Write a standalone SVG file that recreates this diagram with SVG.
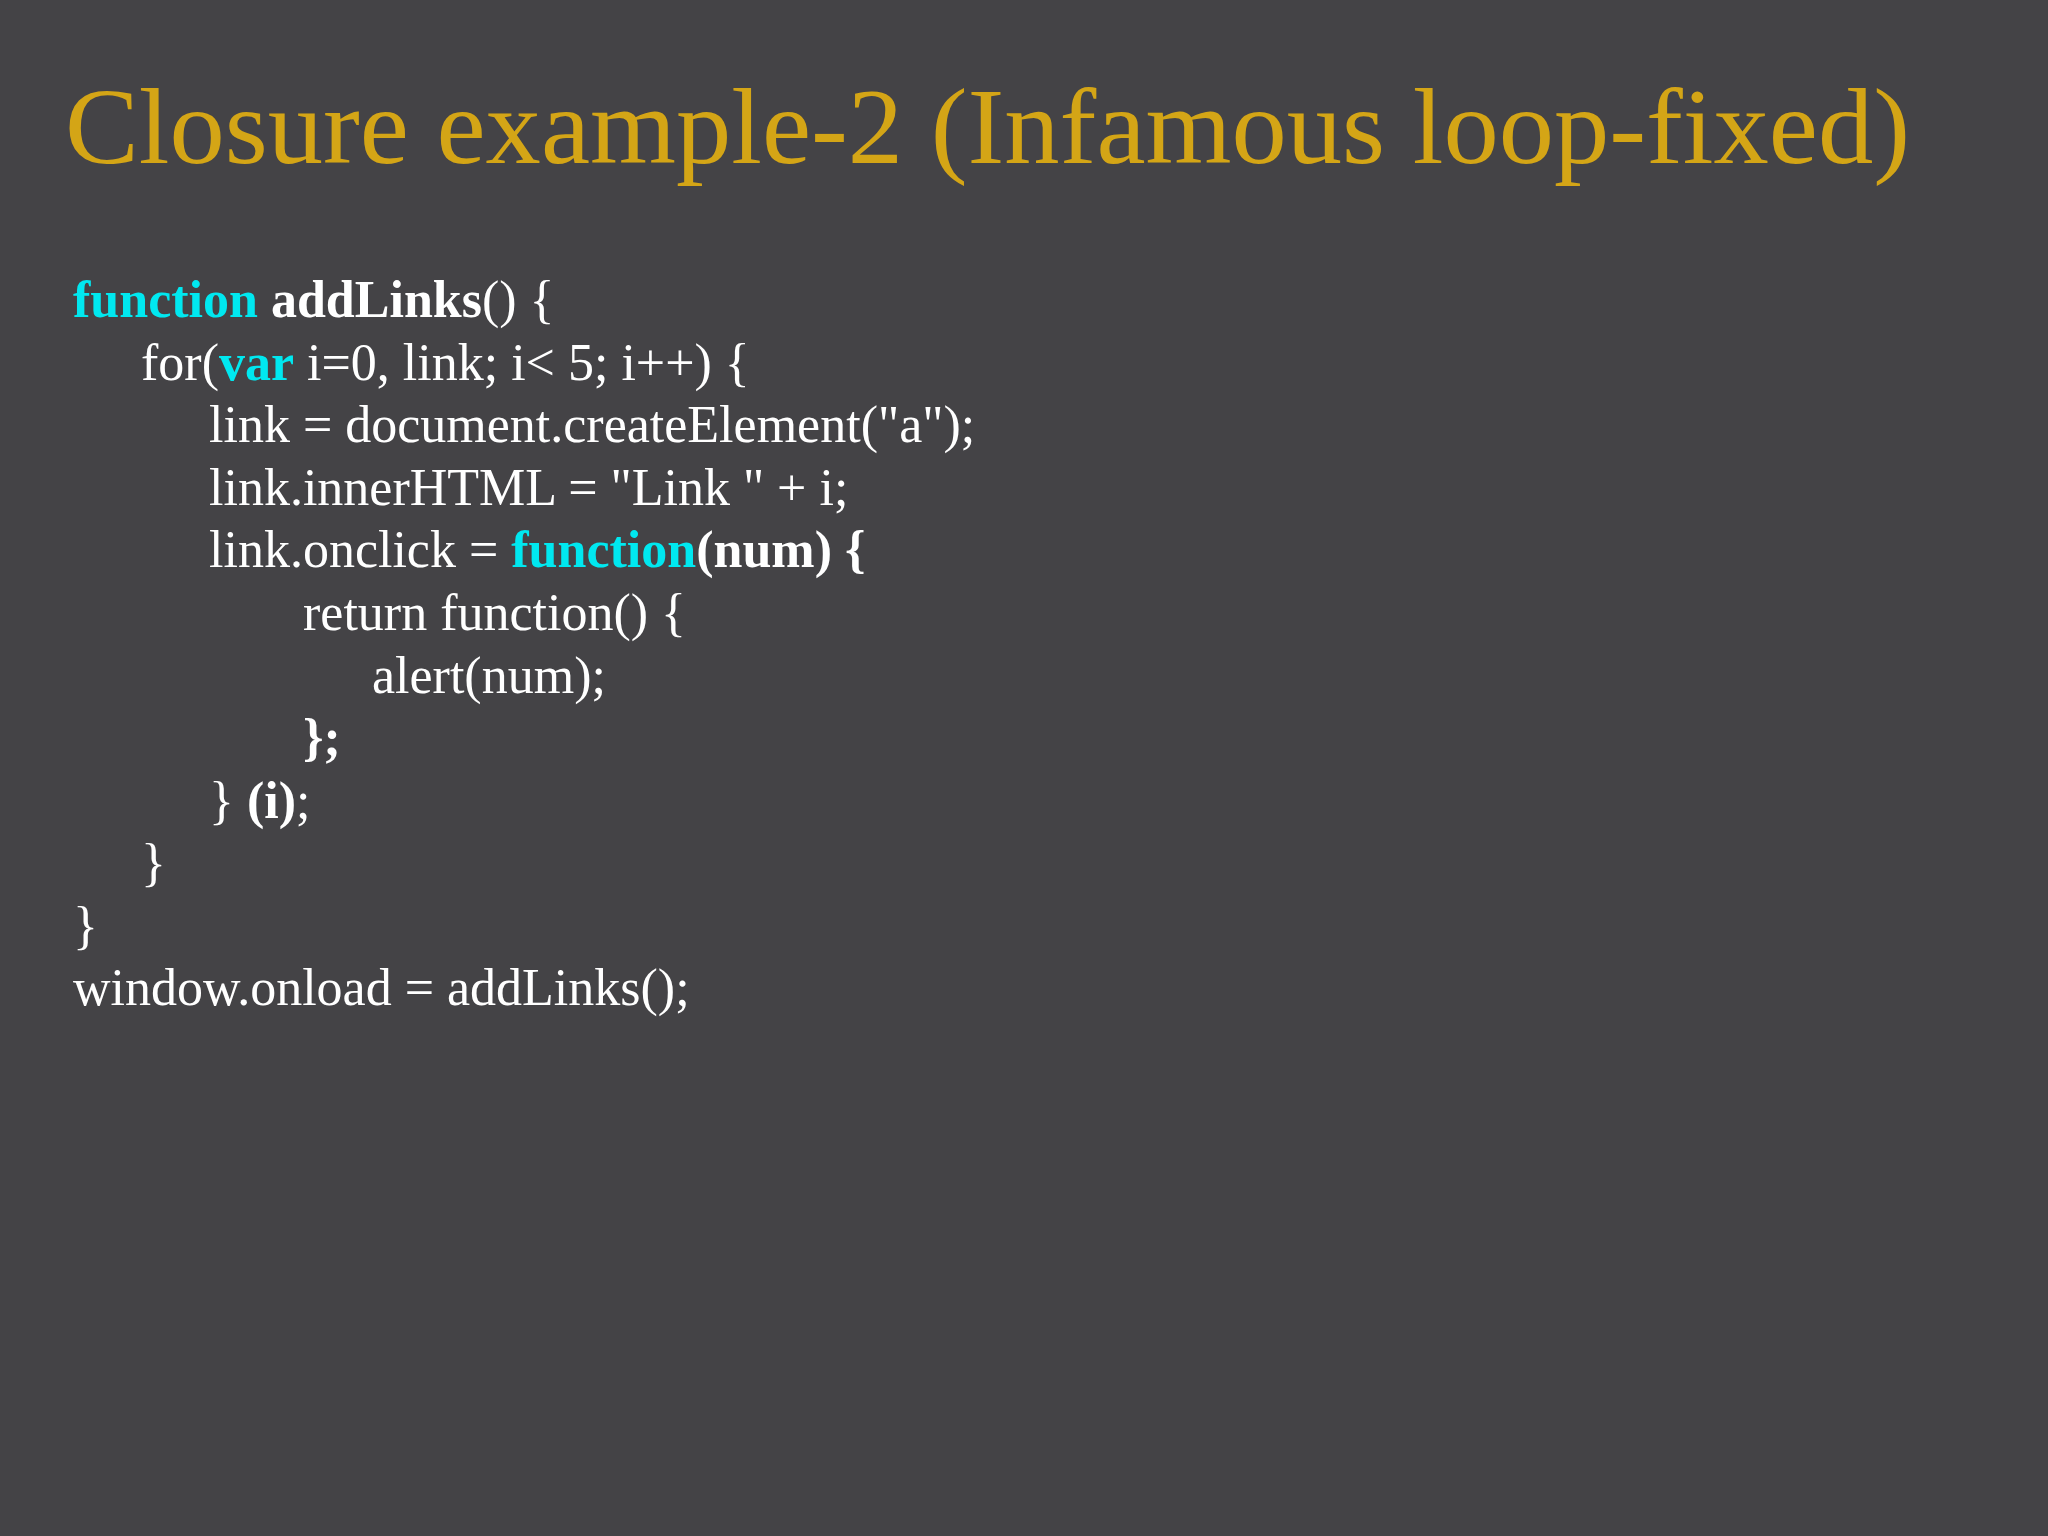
<svg xmlns="http://www.w3.org/2000/svg" width="2048" height="1536" viewBox="0 0 2048 1536">
<style>
.t{font-family:"Liberation Serif","DejaVu Serif",serif;font-size:108px;fill:#D4A516}
.c{font-family:"Liberation Serif","DejaVu Serif",serif;font-size:52px;fill:#FFFFFF}
.k{fill:#00E8F0;font-weight:bold}
.b{font-weight:bold}
</style>
<rect width="2048" height="1536" fill="#444346"/>
<text class="t" x="65" y="163" textLength="1845" lengthAdjust="spacingAndGlyphs">Closure example-2 (Infamous loop-fixed)</text>
<g id="code">
<text class="c" x="73" y="317"><tspan class="k">function</tspan> <tspan class="b">addLinks</tspan>() {</text>
<text class="c" x="141" y="380">for(<tspan class="k">var</tspan> i=0, link; i&lt; 5; i++) {</text>
<text class="c" x="209" y="442">link = document.createElement("a");</text>
<text class="c" x="209" y="505">link.innerHTML = "Link " + i;</text>
<text class="c" x="209" y="567">link.onclick = <tspan class="k">function</tspan><tspan class="b">(num) {</tspan></text>
<text class="c" x="303" y="630">return function() {</text>
<text class="c" x="372" y="693">alert(num);</text>
<text class="c b" x="303" y="755">};</text>
<text class="c" x="209" y="818">} <tspan class="b">(i)</tspan>;</text>
<text class="c" x="141" y="880">}</text>
<text class="c" x="73" y="943">}</text>
<text class="c" x="73" y="1005">window.onload = addLinks();</text>
</g>
</svg>
